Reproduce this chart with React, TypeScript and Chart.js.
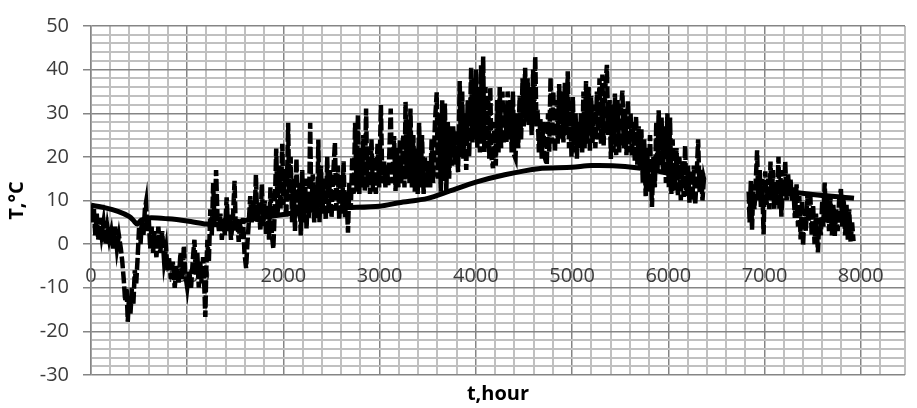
import React, { useEffect, useRef } from 'react';
import { Chart, registerables } from 'chart.js';

Chart.register(...registerables);

// ---- axis settings ----
const X_MIN = 0;
const X_MAX = 8460;
const X_MINOR = 200;
const X_MAJOR = 1000;
const Y_MIN = -30;
const Y_MAX = 50;
const Y_MINOR = 2;
const Y_MAJOR = 10;
const X_TITLE = 't,hour';
const Y_TITLE = 'T,°C';
const GAP_HOUR = 6600;

// ---- hourly air temperature (peaks / troughs) [hour, °C] ----
const airWinter: [number, number][] = [
  [0, 9], [15, 5], [30, 8], [45, 2], [60, 7], [75, 1], [90, 6], [110, 2], [130, 5], [150, 0],
  [170, 4], [190, 1], [210, 3], [230, -1], [250, 4], [270, -1], [290, 2], [310, -1], [325, -4],
  [340, -8], [355, -13], [370, -10], [382, -17.8], [395, -12], [410, -16], [425, -10], [440, -14],
  [455, -6], [470, -9], [485, -3], [500, 4], [515, 0], [530, 6], [545, 2], [560, 8], [572, 9.6],
  [585, 3], [600, 6], [615, -1], [630, 4], [645, -2], [660, 3], [680, -3], [700, 4], [720, -2],
  [740, 3], [760, -4], [780, -1], [795, -6], [810, -3], [830, -8], [850, -4], [870, -10], [890, -5],
  [910, -9], [930, -2], [950, -8], [965, -0.4], [980, -7], [1000, -10], [1020, -6], [1040, -10],
  [1060, -3], [1075, 1], [1090, -7], [1105, -2], [1120, -10], [1135, -4], [1150, -9], [1165, -3],
  [1178, -10], [1188, -16.7], [1198, -6], [1210, 1], [1225, -4], [1240, 8], [1255, 2], [1270, 14],
  [1285, 4], [1300, 17], [1315, 6],
];

const airSpring: [number, number][] = [
  [1330, 3], [1345, 7], [1360, 1], [1375, 6], [1390, 2], [1410, 10.7], [1425, 3], [1440, 7],
  [1455, 1], [1475, 6], [1492, 14.5], [1505, 3], [1520, 6], [1535, 0.5], [1550, 5], [1565, 1],
  [1580, 6], [1595, -2], [1612, -5.5], [1625, 0], [1640, 5], [1655, 11], [1670, 5], [1685, 10],
  [1700, 6], [1714, 15.9], [1728, 5], [1745, 9], [1760, 3], [1775, 13.7], [1790, 4], [1805, 10],
  [1820, 2], [1835, 9], [1850, 1], [1865, 13], [1880, 2], [1895, -1], [1910, 8], [1925, 21.9],
  [1940, 7], [1955, 18], [1970, 8], [1988, 23], [2000, 9], [2015, 17], [2030, 6], [2049, 27.8],
  [2060, 10], [2075, 20], [2090, 5], [2105, 15], [2120, 3], [2135, 19.6], [2150, 6], [2165, 14],
  [2180, 2], [2195, 17], [2210, 5], [2225, 15], [2240, 3.5], [2255, 12], [2265, 6], [2278, 27.8],
  [2290, 8], [2305, 16], [2320, 5], [2335, 13], [2350, 6], [2363, 24], [2375, 5], [2390, 18],
  [2405, 7], [2420, 15], [2440, 5.6], [2455, 20], [2470, 7], [2485, 17],
];

const airEarlySummer: [number, number][] = [
  [2500, 6], [2515, 15], [2535, 23.3], [2550, 8], [2565, 18], [2580, 5.6], [2595, 16], [2610, 7],
  [2625, 19], [2640, 6], [2655, 12], [2671, 2.6], [2685, 14], [2700, 8], [2715, 20], [2730, 11.5],
  [2745, 27.8], [2760, 12], [2774, 29.6], [2788, 11.5], [2800, 22], [2815, 13], [2830, 25],
  [2845, 12.2], [2859, 31.1], [2872, 13], [2888, 22], [2900, 11.5], [2915, 24], [2930, 12],
  [2945, 20], [2960, 11.5], [2978, 23], [2995, 13], [3013, 31.9], [3028, 14], [3047, 19],
  [3060, 13], [3075, 18], [3090, 13.5], [3115, 31.1], [3130, 14], [3150, 24.8], [3165, 12.2],
  [3180, 22], [3195, 13], [3210, 24], [3225, 14], [3245, 25], [3258, 13], [3269, 32.6], [3282, 15],
  [3298, 27], [3310, 14], [3320, 31.1], [3335, 13], [3350, 25], [3365, 12], [3380, 22],
  [3395, 11.5], [3410, 27.8], [3425, 13], [3440, 25], [3457, 11.5], [3470, 20], [3490, 13],
  [3505, 19], [3525, 13], [3540, 24], [3555, 14], [3575, 28], [3593, 34.8], [3605, 15], [3620, 30],
  [3635, 12], [3650, 33], [3662, 14.5], [3678, 32.2], [3692, 11.5], [3708, 28], [3722, 15],
];

const airHighSummer: [number, number][] = [
  [3740, 27], [3752, 18], [3764, 27], [3780, 18.2], [3798, 26], [3815, 16.5], [3832, 37.4],
  [3845, 20], [3858, 35], [3870, 19.6], [3885, 30], [3900, 17], [3915, 33], [3930, 20],
  [3951, 40.4], [3965, 23.3], [3980, 38], [3993, 24], [4002, 40], [4015, 22], [4030, 36],
  [4042, 21], [4054, 41], [4066, 24], [4076, 43], [4088, 21.1], [4100, 36], [4115, 22], [4128, 34],
  [4139, 19.6], [4150, 36], [4162, 20], [4178, 17.4], [4192, 28], [4207, 18], [4222, 33],
  [4235, 21], [4248, 36], [4262, 22], [4276, 35], [4290, 23], [4305, 32], [4318, 23.4], [4330, 35],
  [4344, 24], [4360, 33], [4372, 21], [4385, 35], [4398, 20.4], [4412, 19.6], [4425, 30],
  [4440, 22], [4455, 34], [4470, 24], [4485, 38], [4498, 27], [4512, 40.4], [4525, 28], [4538, 38],
  [4549, 27], [4565, 36], [4580, 25], [4595, 40], [4605, 28], [4617, 43], [4630, 27], [4642, 30.8],
  [4655, 21], [4670, 29], [4685, 19.6], [4700, 28], [4715, 20], [4737, 18.2], [4750, 30],
  [4762, 21.1], [4776, 38.2], [4790, 23], [4805, 35], [4822, 21.1], [4838, 33], [4850, 23],
  [4866, 36.7], [4880, 24], [4895, 35], [4910, 23.3], [4925, 37], [4940, 25], [4955, 39.6],
];

const airLateSummer: [number, number][] = [
  [4968, 22], [4980, 32], [4994, 20], [5008, 33.7], [5022, 21], [5036, 30], [5050, 19.6],
  [5062, 28], [5078, 22], [5092, 30], [5105, 21], [5118, 35], [5130, 22], [5145, 37.4], [5158, 23],
  [5172, 36], [5185, 21.1], [5198, 34], [5212, 23], [5228, 32], [5242, 22], [5258, 35], [5272, 24],
  [5285, 38], [5300, 23], [5315, 38.9], [5328, 22.6], [5345, 36], [5362, 41.1], [5375, 25],
  [5390, 33], [5403, 19.5], [5418, 32], [5430, 21], [5445, 34.5], [5458, 20.4], [5472, 33],
  [5489, 21], [5505, 30], [5523, 35.2], [5538, 22], [5552, 31], [5565, 20.4], [5580, 33],
  [5594, 21], [5608, 30], [5622, 20], [5638, 28], [5652, 19], [5665, 29.3], [5677, 18.2],
  [5692, 27], [5705, 17], [5720, 26.3], [5735, 14], [5750, 24], [5765, 11], [5780, 22], [5795, 12],
  [5810, 25], [5830, 8.5], [5845, 20], [5860, 13], [5875, 28], [5888, 17], [5900, 30.7],
  [5915, 18], [5930, 29], [5945, 16.7], [5960, 27], [5975, 14], [5990, 30], [6005, 13], [6018, 29],
  [6032, 11.5], [6045, 24], [6058, 13], [6069, 12.2], [6085, 22], [6100, 11], [6115, 20],
  [6130, 10], [6145, 19], [6160, 10.8], [6175, 22.6], [6188, 11], [6205, 18], [6220, 9.5],
  [6235, 17], [6250, 10], [6265, 18], [6280, 9], [6295, 16], [6310, 24], [6325, 12], [6340, 17],
  [6355, 10], [6370, 15], [6380, 14],
];

const airAutumn: [number, number][] = [
  [6835, 12], [6845, 5], [6858, 14.5], [6870, 3.3], [6882, 12], [6895, 8], [6910, 15],
  [6923, 21.5], [6935, 10], [6950, 17], [6962, 8.5], [6975, 15], [6990, 2.2], [7000, 12],
  [7008, 16.7], [7022, 9], [7038, 15], [7050, 8], [7062, 18.9], [7075, 10], [7088, 17],
  [7100, 7.8], [7115, 14], [7130, 9], [7145, 20], [7155, 8], [7165, 17], [7175, 6.3], [7190, 14],
  [7200, 11], [7215, 18.9], [7230, 10], [7245, 16], [7258, 11], [7270, 15], [7285, 10], [7300, 13],
  [7315, 6], [7333, 13.7], [7348, 4], [7362, 11], [7375, 1.1], [7390, 10], [7401, -0.4],
  [7415, 8], [7430, 3], [7445, 11], [7460, 5], [7475, 12], [7490, 2], [7505, 9], [7520, 0],
  [7535, 7], [7555, -1.9], [7570, 6], [7585, 2], [7600, 10], [7612, 4], [7625, 14.1], [7640, 5],
  [7655, 11], [7670, 3], [7685, 10.7], [7700, 2], [7715, 9], [7730, 1.9], [7745, 8], [7760, 3],
  [7775, 10], [7794, 12.6], [7808, 4], [7822, 10.7], [7838, 2], [7852, 9], [7866, 1], [7880, 8],
  [7895, 0.4], [7910, 5], [7925, 0.7],
];

// ---- slowly varying temperature (thick solid line) [hour, °C] ----
const slowFirst: [number, number][] = [
  [0, 8.9], [150, 8.3], [280, 7.5], [400, 6.3], [450, 5.2], [480, 4.6], [520, 5.4], [600, 6.0],
  [800, 5.8], [1000, 5.3], [1200, 4.6], [1300, 4.5], [1500, 5.0], [1700, 5.8], [2000, 6.8],
  [2300, 7.8], [2600, 8.3], [3000, 8.7], [3200, 9.5], [3500, 10.5], [3730, 12.2], [4000, 14.2],
  [4300, 15.9], [4650, 17.3], [5000, 17.6], [5200, 18.0], [5550, 17.8], [5880, 16.8],
  [6200, 15.0], [6380, 13.8],
];
const slowSecond: [number, number][] = [
  [6850, 13.3], [7160, 12.3], [7500, 11.4], [7930, 10.5],
];

type Pt = { x: number; y: number | null };
const toPts = (arr: [number, number][]): Pt[] => arr.map(([x, y]) => ({ x, y }));
const gapPt: Pt = { x: GAP_HOUR, y: null };

const airData: Pt[] = [
  ...toPts(airWinter), ...toPts(airSpring), ...toPts(airEarlySummer),
  ...toPts(airHighSummer), ...toPts(airLateSummer), gapPt, ...toPts(airAutumn),
];
const slowData: Pt[] = [...toPts(slowFirst), gapPt, ...toPts(slowSecond)];

const FONT = "'Open Sans', 'Liberation Sans', sans-serif";
const MAJOR_COLOR = '#858585';
const MINOR_COLOR = '#c0c0c0';
const TEXT_COLOR = '#3b3b3b';

export default function App() {
  const ref = useRef<HTMLCanvasElement | null>(null);

  useEffect(() => {
    if (!ref.current) return;
    const isMajorX = (v: number) => Math.abs(v % X_MAJOR) < 1e-6;
    const isMajorY = (v: number) => Math.abs(v % Y_MAJOR) < 1e-6;

    const chart = new Chart(ref.current, {
      type: 'line',
      data: {
        datasets: [
          {
            data: airData as any,
            borderColor: '#000',
            borderWidth: 4.5,
            borderDash: [12, 3],
            pointRadius: 0,
            tension: 0,
            spanGaps: false,
            fill: false,
          },
          {
            data: slowData as any,
            borderColor: '#000',
            borderWidth: 5,
            pointRadius: 0,
            tension: 0.3,
            spanGaps: false,
            fill: false,
          },
        ],
      },
      options: {
        animation: false,
        responsive: true,
        maintainAspectRatio: false,
        layout: { padding: { top: 16, right: 0, bottom: 0, left: 0 } },
        plugins: { legend: { display: false }, tooltip: { enabled: false } },
        scales: {
          x: {
            type: 'linear',
            position: { y: 0 } as any,
            min: X_MIN,
            max: X_MAX,
            ticks: {
              stepSize: X_MINOR,
              autoSkip: false,
              maxRotation: 0,
              padding: 12,
              color: TEXT_COLOR,
              font: { family: FONT, size: 20 },
              callback: (v: any) => (isMajorX(Number(v)) ? String(v) : ''),
            },
            grid: {
              color: (c: any) => (isMajorX(c.tick?.value ?? 1) ? MAJOR_COLOR : MINOR_COLOR),
              lineWidth: (c: any) => (isMajorX(c.tick?.value ?? 1) ? 1.5 : 2),
              tickLength: 8,
              tickColor: (c: any) => (isMajorX(c.tick?.value ?? 1) ? MAJOR_COLOR : 'rgba(0,0,0,0)'),
            },
            border: { display: false },
          },
          x2: {
            type: 'linear',
            position: 'bottom',
            min: X_MIN,
            max: X_MAX,
            ticks: { display: false },
            grid: { display: false },
            border: { display: false },
            title: {
              display: true,
              text: X_TITLE,
              color: '#000',
              font: { family: FONT, size: 20, weight: 'bold' },
              padding: { top: 0, bottom: 2 },
            },
            afterFit: (s: any) => {
              s.height = 33;
            },
          },
          y: {
            type: 'linear',
            position: 'left',
            min: Y_MIN,
            max: Y_MAX,
            ticks: {
              stepSize: Y_MINOR,
              autoSkip: false,
              padding: 14,
              color: TEXT_COLOR,
              font: { family: FONT, size: 20 },
              callback: (v: any) => (isMajorY(Number(v)) ? String(v) : ''),
            },
            grid: {
              color: (c: any) => (isMajorY(c.tick?.value ?? 1) ? MAJOR_COLOR : MINOR_COLOR),
              lineWidth: (c: any) => (isMajorY(c.tick?.value ?? 1) ? 1.5 : 2),
              tickLength: 8,
              tickColor: (c: any) => (isMajorY(c.tick?.value ?? 1) ? MAJOR_COLOR : 'rgba(0,0,0,0)'),
            },
            border: { display: true, color: MAJOR_COLOR, width: 1.5 },
            title: {
              display: true,
              text: Y_TITLE,
              color: '#000',
              font: { family: FONT, size: 20, weight: 'bold' },
              padding: { top: 5, bottom: 0 },
            },
            afterFit: (s: any) => {
              s.width = 91;
            },
          },
        },
      },
    });
    return () => chart.destroy();
  }, []);

  return (
    <div style={{ position: 'fixed', left: 0, top: 0, width: 917, height: 408, background: '#fff' }}>
      <canvas ref={ref} />
    </div>
  );
}
